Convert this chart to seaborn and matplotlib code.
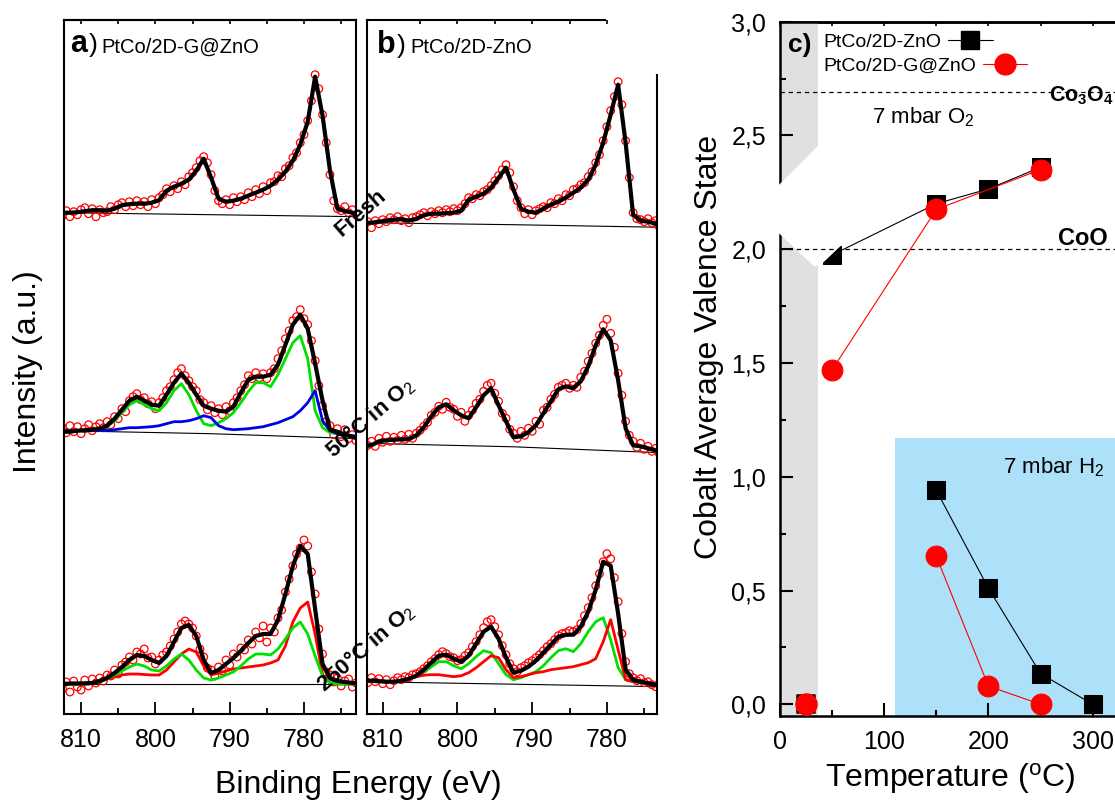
import matplotlib
matplotlib.use("Agg")
import matplotlib.pyplot as plt
import numpy as np
import seaborn as sns
from matplotlib.lines import Line2D
from matplotlib.patches import Polygon, Rectangle
from matplotlib.ticker import FixedLocator, FuncFormatter, MultipleLocator

# ---------------------------------------------------------------- data
# binding energy grids (eV): fitted curves every 1 eV, raw points every 0.5 eV
E_FIT = np.arange(812.5, 772.0, -1.0)
E_DATA = np.arange(812.5, 772.25, -0.5)
E_BG = [812.5, 792.5, 772.5]

# panel a: PtCo/2D-G@ZnO  (intensity in a.u., relative to each baseline)
A_OFFSET = [501.3, 283.3, 30.0]          # Fresh, 50 C, 250 C

A_FRESH_FIT = [0, 0, 0.5, 1.5, 2.5, 2.5, 2, 4, 7.5, 8.5,
               9, 9, 10, 12.5, 22, 26, 29, 33, 42, 54,
               35, 14, 11, 12, 14, 17, 20, 23, 27, 33,
               41, 52, 68, 91, 136, 97, 42, 4, 1.5, 0,
               -2]
A_FRESH_DATA = [-3, 2, -4, 1, -2, 3, 5, -1, 4, -4,
                3, 0, 1, 6, 3, 8, 10, 6, 11, 7,
                12, 8, 11, 6, 13, 9, 15, 18, 24, 21,
                27, 24, 31, 28, 36, 40, 45, 52, 56, 50,
                38, 22, 12, 9, 13, 8, 15, 11, 16, 13,
                20, 16, 23, 19, 26, 22, 30, 31, 37, 36,
                44, 47, 55, 60, 70, 78, 92, 112, 138, 124,
                98, 70, 38, 12, 4, 2, 6, 0, 3, -2,
                1]
A_FRESH_BG = [0, -2, -4]

A_50_FIT = [-1, -1, 0, 0.5, 1, 2, 5, 12, 21, 30,
            34, 30, 26, 25, 36, 48, 57, 48, 36, 25,
            22, 20, 19, 24, 38, 51, 54, 54, 56, 66,
            86, 106, 116, 102, 67, 30, 1, -1, -4, -6,
            -9]
A_50_GREEN = [0, 0, 0, 0, 0, 1, 4, 10, 18, 26,
              30, 26, 22, 20, 28, 40, 47, 36, 20, 7,
              5, 8, 12, 18, 28, 39, 48, 48, 44, 56,
              72, 88, 95, 72, 20, 3, -2, -3, -4, -5,
              -6]
A_50_BLUE = [0, 0, 0, 0, 0, 0, 0.5, 1, 2, 3,
             3, 3.5, 4, 5, 7, 9, 9, 10, 12, 15,
             13, 5, 2, 1, 1.5, 2, 3, 4, 6, 8,
             11, 14, 20, 28, 40, 10, 0, -3, -4, -5,
             -6]
A_50_DATA = [3, -2, 5, -1, 4, -3, 2, 6, 0, 4,
             7, 3, 9, 6, 14, 12, 22, 19, 30, 34,
             37, 31, 33, 27, 29, 22, 28, 33, 40, 44,
             51, 58, 62, 55, 50, 44, 40, 31, 28, 21,
             25, 18, 22, 16, 24, 20, 28, 33, 40, 46,
             55, 52, 58, 53, 57, 52, 58, 62, 72, 80,
             92, 100, 110, 114, 121, 112, 106, 90, 70, 45,
             25, 9, 5, -4, 2, -6, 1, -8, -4, -10,
             -6]
A_50_BG = [0, -3, -8]

A_250_FIT = [0, 0.5, 0.5, 0.7, 1, 3, 6, 11, 17, 24,
             29, 28, 24, 21, 28, 42, 56, 59, 48, 24,
             11, 14, 20, 26, 33, 41, 48, 50, 50, 64,
             90, 118, 138, 130, 75, 20, 6, 3, 2, 1,
             0.5]
A_250_RED = [0, 0, 0, 0, 0.5, 2, 5, 7, 9, 10,
             10, 9.5, 9, 9, 14, 22, 30, 35, 32, 18,
             9, 11, 13, 15, 16, 17, 18, 19, 21, 24,
             38, 62, 76, 82, 50, 9, 1, 0, 0, 0,
             0]
A_250_GREEN = [0, 0, 0, 0, 0.5, 2, 5, 9, 13, 17,
               20, 18, 14, 13, 18, 25, 30, 24, 14, 6,
               4, 6, 9, 12, 18, 25, 30, 30, 29, 35,
               45, 56, 62, 50, 28, 8, 1, 0, 0, 0,
               0]
A_250_DATA = [-5, 2, -8, 3, -3, -6, 4, -2, 5, 1,
              6, 3, 9, 8, 14, 10, 19, 22, 27, 24,
              32, 30, 35, 26, 27, 20, 24, 29, 32, 38,
              45, 52, 60, 63, 60, 56, 48, 35, 27, 16,
              14, 8, 17, 13, 24, 19, 30, 27, 36, 34,
              44, 40, 52, 46, 58, 42, 56, 52, 66, 74,
              92, 105, 118, 130, 136, 144, 138, 112, 90, 55,
              30, 12, 9, 2, 6, -2, 3, 5, -3, 1,
              -4]
A_250_BG = [0, 0, 0]

# panel b: PtCo/2D-ZnO
B_OFFSET = [491.3, 270.7, 32.3]

B_FRESH_FIT = [0, 0, 1, 2, 3, 3.5, 2, 4, 7.5, 9,
               9, 9.5, 10, 12, 23, 26, 29, 35, 45, 55,
               33, 14, 11, 10, 14, 18, 21, 25, 30, 35,
               43, 58, 80, 108, 138, 80, 8, 2, 1, -1,
               -3.5]
B_FRESH_DATA = [-2, 1, -5, 2, -1, 3, 1, 5, 3, 6,
                2, 4, 0, 5, 6, 8, 10, 7, 11, 9,
                12, 10, 13, 11, 14, 12, 15, 19, 25, 24,
                28, 27, 31, 33, 37, 42, 47, 53, 58, 50,
                36, 22, 15, 9, 13, 8, 12, 14, 16, 15,
                20, 19, 24, 22, 28, 27, 33, 34, 38, 40,
                46, 51, 60, 68, 82, 96, 112, 126, 141, 118,
                82, 45, 10, 4, 3, 1, 4, 0, 2, -4,
                -2]
B_FRESH_BG = [0, -2, -4.6]

B_50_FIT = [-3, -2, 2, 3, 3.5, 4, 4, 8, 16, 27,
            36, 39, 33, 28, 25, 36, 48, 55, 38, 22,
            6, 7, 11, 18, 30, 42, 54, 57, 55, 62,
            77, 98, 114, 103, 63, 15, -2, -3, -5, -7,
            -9]
B_50_DATA = [-6, -2, 2, -3, 5, 1, 7, 2, 6, 3,
             8, 4, 9, 5, 10, 13, 17, 21, 28, 31,
             37, 34, 41, 36, 34, 27, 31, 22, 28, 33,
             40, 44, 52, 58, 60, 50, 42, 30, 25, 14,
             10, 5, 12, 8, 15, 12, 22, 19, 33, 36,
             44, 49, 56, 58, 60, 55, 58, 56, 66, 72,
             82, 90, 100, 108, 118, 124, 110, 96, 70, 48,
             22, 8, 2, -4, 0, -6, -3, -8, -5, -10,
             -7]
B_50_BG = [0, -3.5, -9.5]

B_250_FIT = [1.5, 1, 0.5, 0, 0, 1, 3, 6, 12, 19,
             26, 27, 23, 20, 26, 38, 50, 55, 43, 24,
             9, 11, 15, 21, 29, 37, 45, 47, 47, 55,
             70, 92, 120, 116, 68, 12, 2, 0, -1.5, -3,
             -4]
B_250_GREEN = [0, 0, 0, 0, 0, 1, 3, 6, 10, 15,
               20, 20, 16, 13, 18, 25, 31, 29, 18, 7,
               2, 4, 7, 10, 16, 24, 31, 33, 30, 38,
               50, 60, 64, 42, 14, 2, 0, -1, -2, -3,
               -4]
B_250_RED = [0, 0, 0, 0, 0, 1, 3, 5, 6.5, 7,
             7, 6, 5, 6, 9, 14, 20, 26, 24, 12,
             4, 5, 7, 9, 10, 12, 13, 14, 15, 17,
             19, 23, 40, 62, 32, 2, 0, -1, -2, -3,
             -4]
B_250_DATA = [2, -1, 4, 0, 3, -2, 2, -3, 1, 4,
              2, 5, 4, 7, 8, 10, 13, 16, 20, 23,
              27, 30, 28, 25, 24, 21, 22, 26, 29, 35,
              40, 47, 54, 60, 62, 55, 47, 36, 27, 18,
              13, 10, 14, 16, 19, 21, 24, 27, 31, 35,
              38, 42, 46, 48, 49, 51, 50, 52, 58, 66,
              74, 84, 96, 108, 120, 128, 123, 104, 80, 48,
              20, 8, 4, 1, 3, -1, 0, -3, -5, -2,
              -6]
B_250_BG = [0, -2.5, -5]

SPECTRUM_LABELS = ["Fresh", "50°C in O$_2$", "250°C in O$_2$"]

# panel c: cobalt average valence state vs temperature
TEMP_RT = [25]
ZNO_RT = [0.0]
GZNO_RT = [0.0]
TEMP_O2_ZNO = [50, 150, 200, 250]
VAL_O2_ZNO = [1.975, 2.20, 2.265, 2.36]
TEMP_O2_GZNO = [50, 150, 250]
VAL_O2_GZNO = [1.47, 2.175, 2.35]
TEMP_H2_ZNO = [150, 200, 250, 300]
VAL_H2_ZNO = [0.94, 0.51, 0.135, 0.0]
TEMP_H2_GZNO = [150, 200, 250]
VAL_H2_GZNO = [0.65, 0.08, 0.0]
CO3O4_LEVEL = 2.69
COO_LEVEL = 2.0

# ---------------------------------------------------------------- style
sns.set_style("ticks")
plt.rcParams["font.family"] = ["Liberation Sans", "DejaVu Sans"]
plt.rcParams["mathtext.fontset"] = "custom"
plt.rcParams["mathtext.rm"] = "Liberation Sans"
plt.rcParams["mathtext.it"] = "Liberation Sans:italic"
plt.rcParams["mathtext.bf"] = "Liberation Sans:bold"
for key in ["text.color", "axes.labelcolor", "axes.edgecolor",
            "xtick.color", "ytick.color"]:
    plt.rcParams[key] = "black"

GREEN = "#00e000"
BLUE = "#0000e6"
RED = "#ff0000"

W, H = 1115, 800


def fx(px):
    return px / W


def fy(py):
    return 1 - py / H


def draw_spectrum(ax, offset, data, fit, bg, comps):
    off = np.asarray
    sns.lineplot(x=E_BG, y=offset + off(bg), ax=ax, color="black",
                 linewidth=0.8, zorder=1, sort=False)
    sns.scatterplot(x=E_DATA, y=offset + off(data), ax=ax, marker="o", s=30,
                    facecolor="none", edgecolor=RED, linewidth=0.9,
                    zorder=2, legend=False)
    for comp, color in comps:
        sns.lineplot(x=E_FIT, y=offset + off(comp), ax=ax, color=color,
                     linewidth=2.0, zorder=3, sort=False)
    sns.lineplot(x=E_FIT, y=offset + off(fit), ax=ax, color="black",
                 linewidth=3.0, zorder=4, sort=False)


def style_xps(ax, xlim):
    ax.set_xlim(*xlim)
    ax.set_ylim(0, 694)
    ax.set_yticks([])
    ax.set_xlabel("")
    ax.set_ylabel("")
    ax.xaxis.set_major_locator(MultipleLocator(10))
    ax.xaxis.set_minor_locator(MultipleLocator(5))
    ax.tick_params(axis="x", which="major", direction="in", length=8.5,
                   width=1.3, labelsize=18, pad=10)
    ax.tick_params(axis="x", which="minor", direction="in", length=4,
                   width=1.3)
    for s in ax.spines.values():
        s.set_linewidth(1.5)


fig = plt.figure(figsize=(W / 100, H / 100), dpi=100)
ax_a = fig.add_axes([fx(64), fy(714), 292 / W, 694 / H])
ax_b = fig.add_axes([fx(367), fy(714), 290 / W, 694 / H])
ax_c = fig.add_axes([fx(780), fy(716), 343.9 / W, 694.3 / H])

# ---------------------------------------------------------------- panel a
draw_spectrum(ax_a, A_OFFSET[0], A_FRESH_DATA, A_FRESH_FIT, A_FRESH_BG, [])
draw_spectrum(ax_a, A_OFFSET[1], A_50_DATA, A_50_FIT, A_50_BG,
              [(A_50_GREEN, GREEN), (A_50_BLUE, BLUE)])
draw_spectrum(ax_a, A_OFFSET[2], A_250_DATA, A_250_FIT, A_250_BG,
              [(A_250_RED, RED), (A_250_GREEN, GREEN)])
style_xps(ax_a, (812.3, 773.0))
top_a = ax_a.secondary_xaxis("top")
top_a.xaxis.set_major_locator(MultipleLocator(5))
top_a.tick_params(direction="in", length=3, width=1.2, labeltop=False)
top_a.spines["top"].set_linewidth(1.5)

# ---------------------------------------------------------------- panel b
draw_spectrum(ax_b, B_OFFSET[0], B_FRESH_DATA, B_FRESH_FIT, B_FRESH_BG, [])
draw_spectrum(ax_b, B_OFFSET[1], B_50_DATA, B_50_FIT, B_50_BG, [])
draw_spectrum(ax_b, B_OFFSET[2], B_250_DATA, B_250_FIT, B_250_BG,
              [(B_250_GREEN, GREEN), (B_250_RED, RED)])
style_xps(ax_b, (812.1, 773.3))
ax_b.spines["top"].set_visible(False)
ax_b.spines["right"].set_bounds(0, 639)
top_b = ax_b.secondary_xaxis("top")
top_b.xaxis.set_major_locator(FixedLocator([805, 800, 795, 790, 785, 780]))
top_b.tick_params(direction="in", length=3, width=1.2, labeltop=False)
top_b.spines["top"].set_linewidth(1.5)
top_b.spines["top"].set_bounds(812.1, 780.2)

# ---------------------------------------------------------------- panel c
ax_c.set_xlim(0, 330)
ax_c.set_ylim(-0.0515, 3.0)
ax_c.axvspan(0, 36.2, color="#e0e0e0", lw=0, zorder=0.5)
ax_c.add_patch(Rectangle((110, -0.0515), 230, 1.17 + 0.0515,
                         facecolor="#ade1fa", edgecolor="none", zorder=0.5))

line_kw = dict(linewidth=0.8, zorder=3, sort=False)
sns.lineplot(x=TEMP_O2_ZNO, y=VAL_O2_ZNO, ax=ax_c, color="black", marker="s",
             markersize=13.5, markeredgecolor="black", **line_kw)
sns.lineplot(x=TEMP_H2_ZNO, y=VAL_H2_ZNO, ax=ax_c, color="black", marker="s",
             markersize=13.5, markeredgecolor="black", **line_kw)
sns.scatterplot(x=TEMP_RT, y=ZNO_RT, ax=ax_c, marker="s", s=13.5 ** 2,
                color="black", edgecolor="black", zorder=3, legend=False)
sns.lineplot(x=TEMP_O2_GZNO, y=VAL_O2_GZNO, ax=ax_c, color=RED, marker="o",
             markersize=15, markeredgecolor=RED, **line_kw)
sns.lineplot(x=TEMP_H2_GZNO, y=VAL_H2_GZNO, ax=ax_c, color=RED, marker="o",
             markersize=15, markeredgecolor=RED, **line_kw)
sns.scatterplot(x=TEMP_RT, y=GZNO_RT, ax=ax_c, marker="o", s=15 ** 2,
                color=RED, edgecolor=RED, zorder=3, legend=False)

# axis-break mark across the room-temperature band
brk = [(-7.7, 2.252), (36.5, 2.455), (59.5, 2.455), (59.5, 2.020),
       (41.3, 1.941), (32.9, 1.924), (-1.0, 2.070), (-7.7, 2.101)]
ax_c.add_patch(Polygon(brk, closed=True, facecolor="white", edgecolor="none",
                       zorder=4, clip_on=False))

ax_c.axhline(CO3O4_LEVEL, color="black", lw=0.9, ls=(0, (3.5, 3)), zorder=5)
ax_c.axhline(COO_LEVEL, color="black", lw=0.9, ls=(0, (3.5, 3)), zorder=5)
ax_c.text(258.6, 2.65, "Co$_\\mathbf{3}$O$_\\mathbf{4}$", fontsize=15.5,
          fontweight="bold", zorder=6)
ax_c.text(266.8, 2.02, "CoO", fontsize=17, fontweight="bold", zorder=6)
ax_c.text(88, 2.552, "7 mbar O$_2$", fontsize=16, zorder=6)
ax_c.text(214.3, 1.016, "7 mbar H$_2$", fontsize=16, zorder=6)

ax_c.set_xlabel("")
ax_c.set_ylabel("")
ax_c.xaxis.set_major_locator(MultipleLocator(100))
ax_c.xaxis.set_minor_locator(MultipleLocator(50))
ax_c.yaxis.set_major_locator(MultipleLocator(0.5))
ax_c.yaxis.set_minor_locator(MultipleLocator(0.25))
ax_c.yaxis.set_major_formatter(
    FuncFormatter(lambda v, p: f"{v:.1f}".replace(".", ",")))
ax_c.tick_params(which="major", direction="in", length=9.5, width=1.5,
                 labelsize=18, pad=10)
ax_c.tick_params(which="minor", direction="in", length=4.5, width=1.5)
for s in ax_c.spines.values():
    s.set_linewidth(1.8)
top_c = ax_c.secondary_xaxis("top")
top_c.xaxis.set_major_locator(MultipleLocator(50))
top_c.tick_params(direction="in", length=3, width=1.2, labeltop=False)
top_c.spines["top"].set_linewidth(1.8)

# legend: text first, handle after, each row on its own
h_zno = Line2D([], [], color="black", lw=0.8, marker="s", markersize=13.5)
h_gzno = Line2D([], [], color=RED, lw=0.8, marker="o", markersize=15,
                markeredgecolor=RED)
leg_kw = dict(loc="center left", frameon=False, markerfirst=False,
              fontsize=14, handlelength=2.3, handletextpad=0.35,
              borderpad=0, borderaxespad=0)
leg1 = ax_c.legend([h_zno], ["PtCo/2D-ZnO"],
                   bbox_to_anchor=(0.125, 0.9712), **leg_kw)
ax_c.add_artist(leg1)
ax_c.legend([h_gzno], ["PtCo/2D-G@ZnO"], bbox_to_anchor=(0.125, 0.936),
            **leg_kw)

# ---------------------------------------------------------------- texts
fig.text(fx(70), fy(52.3), "a", fontsize=22, fontweight="bold", va="baseline")
fig.text(fx(88.3), fy(52.3), ")", fontsize=19, va="baseline")
fig.text(fx(101.7), fy(52.3), "PtCo/2D-G@ZnO", fontsize=14.5, va="baseline")
fig.text(fx(376.7), fy(53.3), "b", fontsize=22, fontweight="bold",
         va="baseline")
fig.text(fx(396.7), fy(53.3), ")", fontsize=19, va="baseline")
fig.text(fx(410), fy(53.3), "PtCo/2D-ZnO", fontsize=14.5, va="baseline")
fig.text(fx(788.3), fy(51.7), "c)", fontsize=19, fontweight="bold",
         va="baseline")

for label, (cx, cy) in zip(SPECTRUM_LABELS,
                           [(360.8, 213.3), (370, 418), (366, 648)]):
    fig.text(fx(cx), fy(cy), label, rotation=41, ha="center", va="center",
             fontsize=16, fontweight="bold", rotation_mode="anchor")

fig.text(fx(28), fy(372), "Intensity (a.u.)", rotation=90, fontsize=23,
         ha="center", va="center")
fig.text(fx(358), fy(793), "Binding Energy (eV)", fontsize=23, ha="center",
         va="baseline")
fig.text(fx(950), fy(787), "Temperature ($\\mathregular{^o}$C)", fontsize=23,
         ha="center", va="baseline")
fig.text(fx(708.5), fy(347), "Cobalt Average Valence State", rotation=90,
         fontsize=23, ha="center", va="center")

fig.savefig("out.png", dpi=100)
